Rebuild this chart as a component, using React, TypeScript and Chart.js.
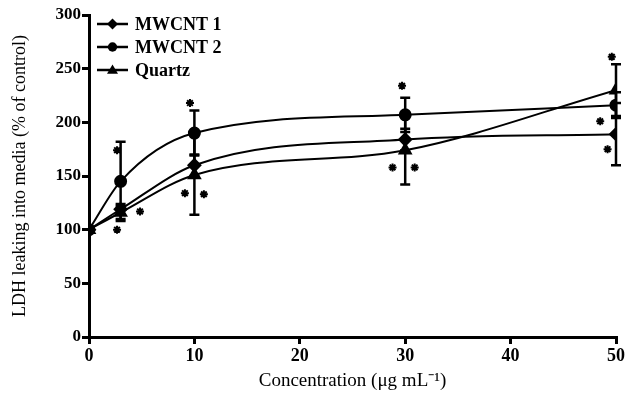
import React, { useEffect, useRef } from "react";
import { Chart, registerables } from "chart.js";

Chart.register(...registerables);

const concentrations = [0, 3, 10, 30, 50];
const mwcnt1 = [100, 119, 160, 184, 189];
const mwcnt2 = [100, 145, 190, 207, 216];
const quartz = [100, 116, 151, 174, 230];
const mwcnt1Err = [0, 5, 10, 10, 29];
const mwcnt2Err = [0, 37, 21, 16, 12];
const quartzErr = [0, 6, 37, 32, 24];
const starX = [2.66, 2.66, 4.84, 9.58, 9.1, 10.9, 29.7, 28.8, 30.9, 49.6, 48.5, 49.2];
const starY = [174, 100, 117, 218, 134, 133, 234, 158, 158, 261, 201, 175];
const seriesNames = ["MWCNT 1", "MWCNT 2", "Quartz"];
const yTicks = [0, 50, 100, 150, 200, 250, 300];
const xTicks = [0, 10, 20, 30, 40, 50];

const FONT = "'Liberation Serif', 'Times New Roman', serif";

const errorBarPlugin = {
  id: "errorBars",
  afterDatasetsDraw(chart: any) {
    const ctx = chart.ctx;
    const xs = chart.scales.x;
    const ys = chart.scales.y;
    ctx.save();
    ctx.strokeStyle = "#000";
    ctx.lineWidth = 2.5;
    chart.data.datasets.forEach((ds: any) => {
      if (!ds.err) return;
      ds.data.forEach((p: any, i: number) => {
        const e = ds.err[i];
        if (!e) return;
        const px = xs.getPixelForValue(p.x);
        const top = ys.getPixelForValue(p.y + e);
        const bot = ys.getPixelForValue(p.y - e);
        ctx.beginPath();
        ctx.moveTo(px, top);
        ctx.lineTo(px, bot);
        ctx.moveTo(px - 5, top);
        ctx.lineTo(px + 5, top);
        ctx.moveTo(px - 5, bot);
        ctx.lineTo(px + 5, bot);
        ctx.stroke();
      });
    });
    ctx.restore();
  },
};

function drawMarker(ctx: CanvasRenderingContext2D, kind: number, x: number, y: number, r: number) {
  ctx.beginPath();
  if (kind === 0) {
    ctx.moveTo(x, y - r);
    ctx.lineTo(x + r, y);
    ctx.lineTo(x, y + r);
    ctx.lineTo(x - r, y);
    ctx.closePath();
  } else if (kind === 1) {
    ctx.arc(x, y, r * 0.85, 0, Math.PI * 2);
  } else {
    ctx.moveTo(x, y - r);
    ctx.lineTo(x + r, y + r * 0.7);
    ctx.lineTo(x - r, y + r * 0.7);
    ctx.closePath();
  }
  ctx.fill();
}

const legendPlugin = {
  id: "customLegend",
  afterDraw(chart: any) {
    const ctx = chart.ctx;
    const rows = [24, 47, 70];
    ctx.save();
    rows.forEach((y, i) => {
      ctx.strokeStyle = "#000";
      ctx.fillStyle = "#000";
      ctx.lineWidth = 2.5;
      ctx.beginPath();
      ctx.moveTo(97, y);
      ctx.lineTo(128, y);
      ctx.stroke();
      drawMarker(ctx, i, 112.5, y, 5.5);
      ctx.font = `bold 18px ${FONT}`;
      ctx.textBaseline = "middle";
      ctx.textAlign = "left";
      ctx.fillText(seriesNames[i], 135, y + 1);
    });
    ctx.restore();
  },
};

export default function App() {
  const ref = useRef<HTMLCanvasElement>(null);
  useEffect(() => {
    if (!ref.current) return;
    const mk = (vals: number[]) => concentrations.map((x, i) => ({ x, y: vals[i] }));
    const lineDs = (label: string, vals: number[], err: number[], style: string, r: number) => ({
      type: "line" as const,
      label,
      data: mk(vals),
      err,
      borderColor: "#000",
      backgroundColor: "#000",
      borderWidth: 2,
      pointStyle: style,
      pointRadius: r,
      pointBackgroundColor: "#000",
      pointBorderColor: "#000",
      cubicInterpolationMode: "monotone" as const,
      fill: false,
    });
    const chart = new Chart(ref.current, {
      type: "line",
      data: {
        datasets: [
          lineDs(seriesNames[0], mwcnt1, mwcnt1Err, "rectRot", 6),
          lineDs(seriesNames[1], mwcnt2, mwcnt2Err, "circle", 5.5),
          lineDs(seriesNames[2], quartz, quartzErr, "triangle", 6.5),
          {
            type: "scatter" as const,
            label: "sig",
            data: starX.map((x, i) => ({ x, y: starY[i] })),
            pointStyle: "star",
            pointRadius: 4,
            borderWidth: 2,
            borderColor: "#000",
            backgroundColor: "#000",
          } as any,
        ] as any,
      },
      options: {
        animation: false,
        responsive: false,
        devicePixelRatio: 1,
        layout: { padding: { top: 15, right: 11, left: 0, bottom: 0 } },
        plugins: { legend: { display: false }, tooltip: { enabled: false } },
        scales: {
          x: {
            type: "linear",
            min: 0,
            max: 50,
            afterFit: (s: any) => { s.height = 63; },
            afterBuildTicks: (s: any) => { s.ticks = xTicks.map((v) => ({ value: v })); },
            border: { display: true, color: "#000", width: 3 },
            grid: { display: true, drawOnChartArea: false, drawTicks: true, tickLength: 7, color: "#000", lineWidth: 3 },
            ticks: { color: "#000", padding: 2, font: { family: FONT, size: 18, weight: "bold" } },
            title: {
              display: true,
              text: "Concentration (\u03bcg mL\u207b\u00b9)",
              color: "#000",
              font: { family: FONT, size: 19 },
              padding: { top: 0, bottom: 8 },
            },
          },
          y: {
            type: "linear",
            min: 0,
            max: 300,
            afterFit: (s: any) => { s.width = 89; },
            afterBuildTicks: (s: any) => { s.ticks = yTicks.map((v) => ({ value: v })); },
            border: { display: true, color: "#000", width: 3 },
            grid: { display: true, drawOnChartArea: false, drawTicks: true, tickLength: 7, color: "#000", lineWidth: 3 },
            ticks: { color: "#000", padding: 1, font: { family: FONT, size: 17, weight: "bold" } },
            title: {
              display: true,
              text: "LDH leaking into media (% of control)",
              color: "#000",
              font: { family: FONT, size: 18 },
              padding: { top: 9, bottom: 0 },
            },
          },
        },
      } as any,
      plugins: [errorBarPlugin, legendPlugin],
    });
    return () => chart.destroy();
  }, []);
  return (
    <div style={{ position: "fixed", left: 0, top: 0, width: 627, height: 400, background: "#fff" }}>
      <canvas ref={ref} width={627} height={400} />
    </div>
  );
}
